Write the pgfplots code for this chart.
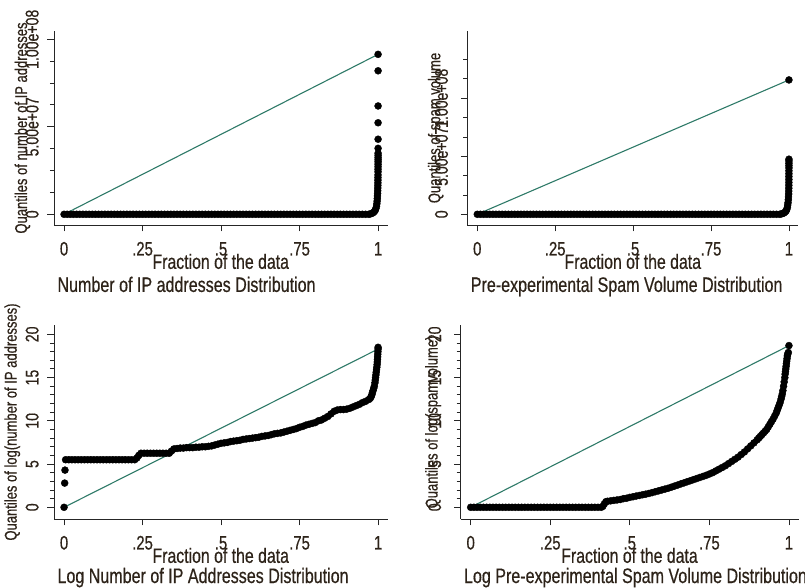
\documentclass[border=0pt]{standalone}
\usepackage{fontspec}
\setmainfont{Liberation Sans}[FakeStretch=0.765, FakeBold=0.5]
\usepackage{pgfplots}
\pgfplotsset{compat=1.18}
\definecolor{refline}{RGB}{46,122,104}
\definecolor{txt}{RGB}{45,35,25}

\pgfplotsset{
  qplot/.style={
    scale only axis, height=194pt,
    axis lines=left, axis line style={-, black!85, line width=0.9pt},
    xmin=-0.032, xmax=1.03,
    xtick={0,0.25,0.5,0.75,1}, xticklabels={0,.25,.5,.75,1},
    scaled y ticks=false,
    tick align=outside, major tick length=6.5pt, minor tick length=4pt,
    tick style={black!85, line width=0.9pt},
    xticklabel style={font=\fontsize{19.5}{19.5}\selectfont, anchor=base, text=txt},
    xticklabel shift=24pt,
    yticklabel style={font=\fontsize{18.4}{18.4}\selectfont, rotate=90, anchor=base, text=txt},
    xlabel={Fraction of the data},
    xlabel style={at={(axis description cs:0.5,-0.226)}, anchor=base,
      font=\fontsize{20.7}{20.7}\selectfont, text=txt},
    ylabel style={anchor=base, font=\fontsize{17}{17}\selectfont, text=txt},
    every axis title/.style={at={(axis description cs:0,-0.345)}, anchor=base west,
      font=\fontsize{21}{21}\selectfont, text=txt},
  },
  low title/.style={title style={at={(axis description cs:0,-0.33)}}},
  dots/.style={only marks, mark=*, mark size=3.5pt, draw=black, fill=black},
  ref/.style={refline, line width=1.1pt, no marks},
}

\begin{document}
\begin{tikzpicture}
\path[use as bounding box] (0,0) rectangle (805pt,588pt);

% ---- top left: number of IP addresses
\begin{axis}[qplot, at={(54pt,363pt)}, anchor=south west, width=333.5pt,
  ymin=-6.11e6, ymax=1.0474e8,
  ytick={0,5e7,1e8}, yticklabels={0,5.00e+07,1.00e+08},
  minor ytick={1.25e7,2.5e7,3.75e7,6.25e7,7.5e7,8.75e7},
  yticklabel shift=9pt,
  ylabel={Quantiles of number of IP addresses},
  ylabel style={at={(axis description cs:-0.081,0.5)}},
  title={Number of IP addresses Distribution}]
\addplot[dots] coordinates {
(0.00,0) (0.01,0) (0.02,0) (0.03,0) (0.04,0) (0.05,0) (0.06,0) (0.07,0) (0.08,0) (0.09,0)
(0.10,0) (0.11,0) (0.12,0) (0.13,0) (0.14,0) (0.15,0) (0.16,0) (0.17,0) (0.18,0) (0.19,0)
(0.20,0) (0.21,0) (0.22,0) (0.23,0) (0.24,0) (0.25,0) (0.26,0) (0.27,0) (0.28,0) (0.29,0)
(0.30,0) (0.31,0) (0.32,0) (0.33,0) (0.34,0) (0.35,0) (0.36,0) (0.37,0) (0.38,0) (0.39,0)
(0.40,0) (0.41,0) (0.42,0) (0.43,0) (0.44,0) (0.45,0) (0.46,0) (0.47,0) (0.48,0) (0.49,0)
(0.50,0) (0.51,0) (0.52,0) (0.53,0) (0.54,0) (0.55,0) (0.56,0) (0.57,0) (0.58,0) (0.59,0)
(0.60,0) (0.61,0) (0.62,0) (0.63,0) (0.64,0) (0.65,0) (0.66,0) (0.67,0) (0.68,0) (0.69,0)
(0.70,0) (0.71,0) (0.72,0) (0.73,0) (0.74,0) (0.75,0) (0.76,0) (0.77,0) (0.78,0) (0.79,0)
(0.80,0) (0.81,0) (0.82,0) (0.83,0) (0.84,0) (0.85,0) (0.86,0) (0.87,0) (0.88,0) (0.89,0)
(0.90,0) (0.91,0) (0.92,0) (0.93,0) (0.94,0) (0.95,0) (0.96,0) (0.97,0)
(0.975,2e5) (0.98,5e5) (0.984,9e5) (0.988,1.5e6) (0.991,2.3e6) (0.993,3.3e6)
(0.995,4.6e6) (0.996,6e6) (0.997,7.5e6) (0.9975,9e6) (0.998,1.05e7) (0.9985,1.2e7)
(0.9988,1.35e7) (0.999,1.5e7) (0.9992,1.65e7) (0.9994,1.8e7) (0.9995,1.95e7)
(0.9996,2.1e7) (0.9997,2.25e7) (0.9998,2.43e7) (0.9998,2.57e7) (0.9999,2.72e7)
(0.9999,2.86e7) (1,3.0e7) (1,3.12e7) (1,3.24e7) (1,3.37e7) (1,3.49e7) (1,3.77e7)
(1,4.29e7) (1,5.23e7) (1,6.19e7) (1,8.2e7) (1,9.14e7)
};
\addplot[ref] coordinates {(0,0) (1,9.14e7)};
\end{axis}

% ---- top right: pre-experimental spam volume
\begin{axis}[qplot, at={(467.3pt,363pt)}, anchor=south west, width=331pt,
  ymin=-9.22e6, ymax=1.58e8,
  ytick={0,5e7,1e8}, yticklabels={0,5.00e+07,1.00e+08},
  minor ytick={1.6667e7,3.3333e7,6.6667e7,8.3333e7,1.16667e8,1.33333e8},
  yticklabel shift=13pt,
  ylabel={Quantiles of spam volume},
  ylabel style={at={(axis description cs:-0.0816,0.5)}},
  title={Pre-experimental Spam Volume Distribution}]
\addplot[dots] coordinates {
(0.00,0) (0.01,0) (0.02,0) (0.03,0) (0.04,0) (0.05,0) (0.06,0) (0.07,0) (0.08,0) (0.09,0)
(0.10,0) (0.11,0) (0.12,0) (0.13,0) (0.14,0) (0.15,0) (0.16,0) (0.17,0) (0.18,0) (0.19,0)
(0.20,0) (0.21,0) (0.22,0) (0.23,0) (0.24,0) (0.25,0) (0.26,0) (0.27,0) (0.28,0) (0.29,0)
(0.30,0) (0.31,0) (0.32,0) (0.33,0) (0.34,0) (0.35,0) (0.36,0) (0.37,0) (0.38,0) (0.39,0)
(0.40,0) (0.41,0) (0.42,0) (0.43,0) (0.44,0) (0.45,0) (0.46,0) (0.47,0) (0.48,0) (0.49,0)
(0.50,0) (0.51,0) (0.52,0) (0.53,0) (0.54,0) (0.55,0) (0.56,0) (0.57,0) (0.58,0) (0.59,0)
(0.60,0) (0.61,0) (0.62,0) (0.63,0) (0.64,0) (0.65,0) (0.66,0) (0.67,0) (0.68,0) (0.69,0)
(0.70,0) (0.71,0) (0.72,0) (0.73,0) (0.74,0) (0.75,0) (0.76,0) (0.77,0) (0.78,0) (0.79,0)
(0.80,0) (0.81,0) (0.82,0) (0.83,0) (0.84,0) (0.85,0) (0.86,0) (0.87,0) (0.88,0) (0.89,0)
(0.90,0) (0.91,0) (0.92,0) (0.93,0) (0.94,0) (0.95,0) (0.96,0) (0.97,0)
(0.975,3e5) (0.98,7e5) (0.984,1.2e6) (0.988,2e6) (0.991,3e6) (0.993,4.2e6)
(0.995,6e6) (0.996,8e6) (0.997,1.0e7) (0.998,1.25e7) (0.9985,1.5e7) (0.999,1.75e7)
(0.9993,2.0e7) (0.9995,2.25e7) (0.9996,2.5e7) (0.9997,2.75e7) (0.9998,3.0e7)
(0.9998,3.25e7) (0.9999,3.5e7) (0.9999,3.75e7) (1,4.0e7) (1,4.2e7) (1,4.4e7)
(1,4.6e7) (1,4.75e7) (1,1.158e8)
};
\addplot[ref] coordinates {(0,0) (1,1.158e8)};
\end{axis}

% ---- bottom left: log number of IP addresses
\begin{axis}[qplot, low title, at={(54pt,69pt)}, anchor=south west, width=333.5pt,
  ymin=-1.353, ymax=21.08,
  ytick={0,5,10,15,20}, yticklabels={0,5,10,15,20}, minor y tick num=4,
  yticklabel shift=9pt,
  ylabel={Quantiles of log(number of IP addresses)},
  ylabel style={at={(axis description cs:-0.112,0.5)}},
  title={Log Number of IP Addresses Distribution}]
\addplot[dots] coordinates {
(0,0) (0.002,2.8) (0.003,4.3)
(0.005,5.5) (0.015,5.5) (0.025,5.5) (0.035,5.5) (0.045,5.5) (0.055,5.5) (0.065,5.5)
(0.075,5.5) (0.085,5.5) (0.095,5.5) (0.105,5.5) (0.115,5.5) (0.125,5.5) (0.135,5.5)
(0.145,5.5) (0.155,5.5) (0.165,5.5) (0.175,5.5) (0.185,5.5) (0.195,5.5) (0.205,5.5)
(0.215,5.5) (0.225,5.5)
(0.232,5.7) (0.238,6.0) (0.245,6.25) (0.255,6.25) (0.265,6.25) (0.275,6.25) (0.285,6.25)
(0.295,6.25) (0.305,6.25) (0.315,6.25) (0.325,6.25) (0.335,6.25)
(0.342,6.5) (0.35,6.75) (0.36,6.8) (0.37,6.85) (0.38,6.85) (0.39,6.9) (0.40,6.9)
(0.41,6.9) (0.42,6.95) (0.43,6.95) (0.44,7.0) (0.45,7.0) (0.46,7.05) (0.47,7.1)
(0.48,7.2) (0.49,7.3) (0.50,7.4) (0.51,7.45) (0.52,7.5) (0.53,7.6) (0.54,7.65)
(0.55,7.7) (0.56,7.75) (0.57,7.85) (0.58,7.9) (0.59,7.95) (0.60,8.0) (0.61,8.05)
(0.62,8.1) (0.63,8.2) (0.64,8.25) (0.65,8.3) (0.66,8.4) (0.67,8.5) (0.68,8.55)
(0.69,8.6) (0.70,8.7) (0.71,8.8) (0.72,8.9) (0.73,9.0) (0.74,9.1) (0.75,9.25)
(0.76,9.35) (0.77,9.5) (0.78,9.6) (0.79,9.7) (0.80,9.8) (0.81,10.0) (0.82,10.1)
(0.83,10.3) (0.84,10.5) (0.85,10.8) (0.86,11.1) (0.87,11.25) (0.88,11.3) (0.89,11.3)
(0.90,11.35) (0.91,11.45) (0.92,11.6) (0.93,11.75) (0.94,11.9) (0.95,12.1)
(0.96,12.25) (0.97,12.45) (0.975,12.6) (0.978,12.8) (0.98,13.0) (0.982,13.25)
(0.984,13.5) (0.986,13.75) (0.988,14.0) (0.99,14.4) (0.991,14.7) (0.992,15.0)
(0.993,15.3) (0.994,15.6) (0.995,15.9) (0.996,16.2) (0.997,16.5) (0.9975,16.8)
(0.998,17.1) (0.9985,17.4) (0.999,17.7) (0.9995,18.0) (1,18.3) (1,18.5)
};
\addplot[ref] coordinates {(0,0) (1,18.3)};
\end{axis}

% ---- bottom right: log pre-experimental spam volume
\begin{axis}[qplot, low title, at={(460.5pt,69pt)}, anchor=south west, width=338pt,
  ymin=-1.353, ymax=21.08,
  ytick={0,5,10,15,20}, yticklabels={0,5,10,15,20}, minor y tick num=4,
  yticklabel shift=13pt,
  ylabel={Quantiles of log(spamvolume)},
  ylabel style={at={(axis description cs:-0.068,0.5)}},
  title={Log Pre-experimental Spam Volume Distribution}]
\addplot[dots] coordinates {
(0.00,0) (0.01,0) (0.02,0) (0.03,0) (0.04,0) (0.05,0) (0.06,0) (0.07,0) (0.08,0) (0.09,0)
(0.10,0) (0.11,0) (0.12,0) (0.13,0) (0.14,0) (0.15,0) (0.16,0) (0.17,0) (0.18,0) (0.19,0)
(0.20,0) (0.21,0) (0.22,0) (0.23,0) (0.24,0) (0.25,0) (0.26,0) (0.27,0) (0.28,0) (0.29,0)
(0.30,0) (0.31,0) (0.32,0) (0.33,0) (0.34,0) (0.35,0) (0.36,0) (0.37,0) (0.38,0) (0.39,0)
(0.40,0) (0.41,0) (0.415,0.1) (0.42,0.4) (0.425,0.65)
(0.43,0.7) (0.44,0.75) (0.45,0.8) (0.46,0.85) (0.47,0.9) (0.48,1.0) (0.49,1.05)
(0.50,1.15) (0.51,1.22) (0.52,1.3) (0.53,1.37) (0.54,1.45) (0.55,1.52) (0.56,1.6)
(0.57,1.7) (0.58,1.8) (0.59,1.9) (0.60,2.0) (0.61,2.1) (0.62,2.2) (0.63,2.32)
(0.64,2.45) (0.65,2.57) (0.66,2.7) (0.67,2.82) (0.68,2.95) (0.69,3.07) (0.70,3.2)
(0.71,3.32) (0.72,3.45) (0.73,3.57) (0.74,3.7) (0.75,3.85) (0.76,4.0) (0.77,4.2)
(0.78,4.4) (0.79,4.6) (0.80,4.8) (0.81,5.05) (0.82,5.3) (0.83,5.55) (0.84,5.8)
(0.85,6.1) (0.86,6.4) (0.87,6.75) (0.88,7.1) (0.89,7.45) (0.90,7.8) (0.905,8.0)
(0.91,8.2) (0.915,8.4) (0.92,8.6) (0.925,8.8) (0.93,9.0) (0.935,9.3) (0.94,9.6)
(0.945,9.9) (0.95,10.2) (0.955,10.55) (0.96,10.9) (0.963,11.2) (0.966,11.5)
(0.969,11.8) (0.972,12.1) (0.975,12.5) (0.977,12.8) (0.979,13.1) (0.981,13.5)
(0.983,14.0) (0.985,14.5) (0.987,15.0) (0.988,15.4) (0.989,15.7) (0.99,16.0)
(0.991,16.3) (0.992,16.6) (0.993,16.9) (0.994,17.2) (0.995,17.5) (0.996,17.7)
(0.998,17.9) (1,18.7)
};
\addplot[ref] coordinates {(0,0) (1,18.7)};
\end{axis}
\end{tikzpicture}
\end{document}
